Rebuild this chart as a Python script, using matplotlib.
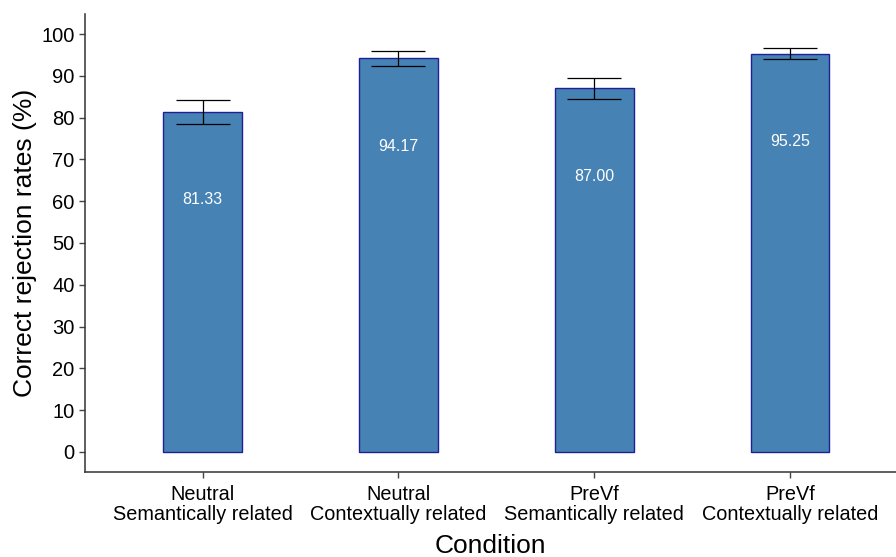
import matplotlib.pyplot as plt
import numpy as np

plt.rcParams['font.family'] = ['Liberation Sans', 'DejaVu Sans']

# Data
conditions = ["Neutral\nSemantically related", "Neutral\nContextually related",
              "PreVf\nSemantically related", "PreVf\nContextually related"]
rates = [81.33, 94.17, 87.00, 95.25]
errors = [2.85, 1.7, 2.5, 1.3]
yticks = list(range(0, 101, 10))

fig = plt.figure(figsize=(8.96, 5.57), dpi=100)
ax = fig.add_axes([85 / 896, 85 / 557, 1 - 85 / 896, (472 - 14) / 557])

x = np.arange(1, len(rates) + 1)
ax.bar(x, rates, width=0.4, color="#4682B4", edgecolor="#1f1f9a", linewidth=1.0, zorder=2)
ax.errorbar(x, rates, yerr=errors, fmt="none", ecolor="black", elinewidth=0.9,
            capsize=19.5, capthick=0.9, zorder=3)

for xi, r in zip(x, rates):
    ax.text(xi, r - 21, f"{r:.2f}", ha="center", va="center", color="white", fontsize=11.5)

ax.set_xlim(0.4, 4.54)
ax.set_ylim(-4.8, 104.8)
ax.set_xticks(x)
ax.set_xticklabels(conditions, fontsize=14.3, linespacing=1.1)
ax.set_yticks(yticks)
ax.tick_params(axis="y", labelsize=14.5, length=4, color="#444444", width=1)
ax.tick_params(axis="x", length=4, color="#444444", width=1, pad=5)

for side in ["top", "right"]:
    ax.spines[side].set_visible(False)
for side in ["left", "bottom"]:
    ax.spines[side].set_color("#333333")
    ax.spines[side].set_linewidth(1.1)

ax.set_ylabel("Correct rejection rates (%)", fontsize=19, labelpad=3)
ax.set_xlabel("Condition", fontsize=19, labelpad=7)

fig.savefig("out.png", dpi=100)
